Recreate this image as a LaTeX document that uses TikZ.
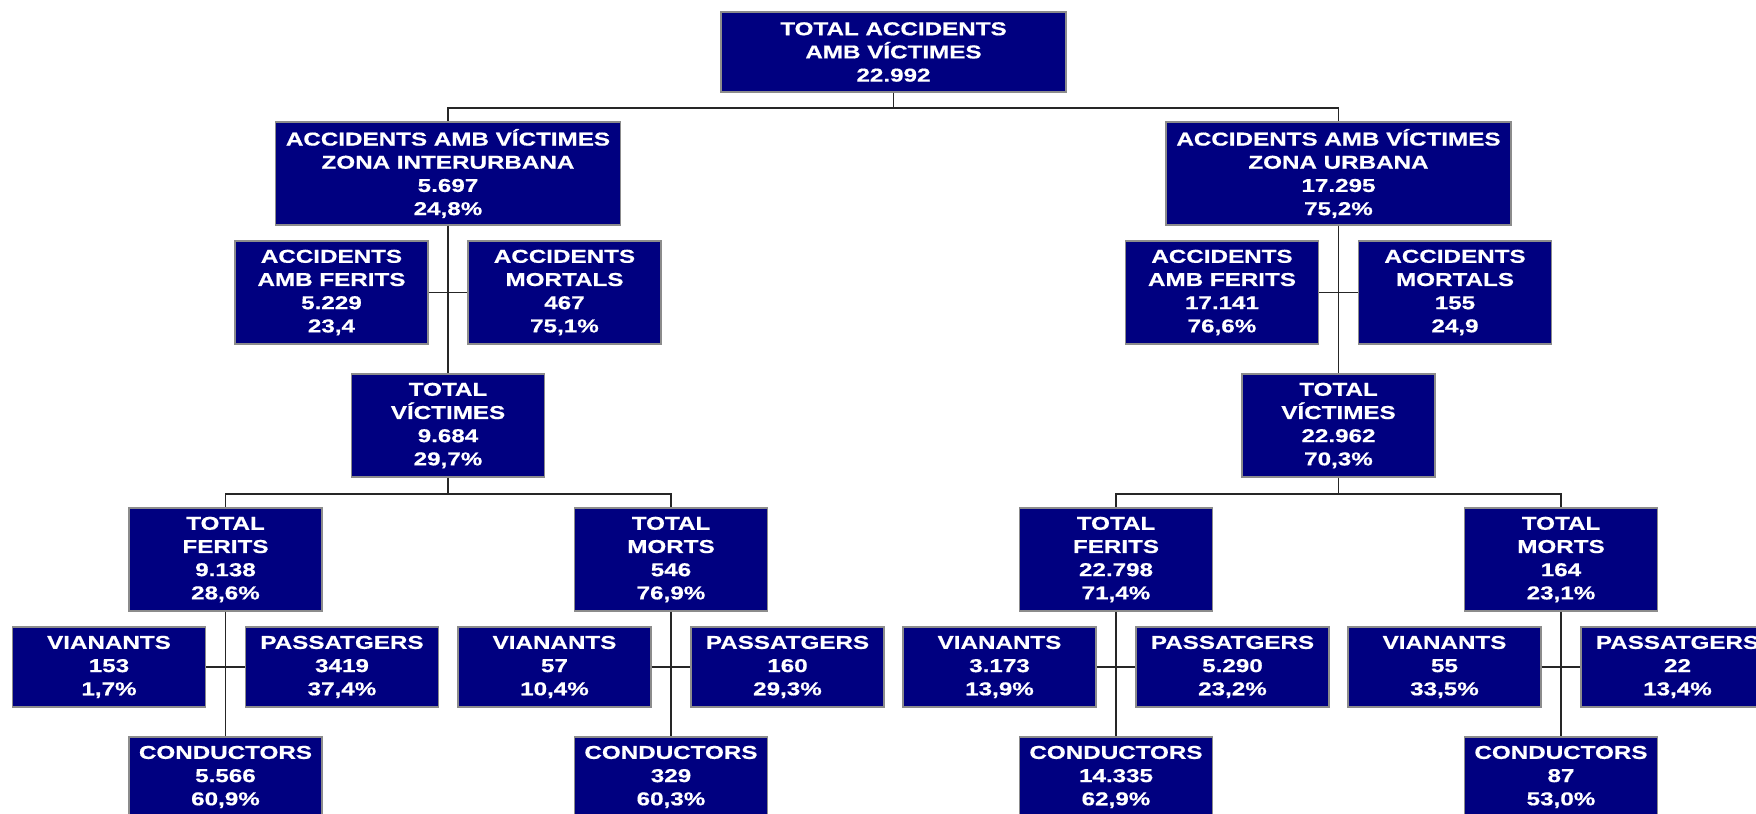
\documentclass[tikz,border=0pt]{standalone}
\usepackage{fontspec}
\setmainfont{Liberation Sans}[FakeStretch=1.3, BoldFeatures={FakeBold=0.6}]
\definecolor{boxblue}{HTML}{000080}
\definecolor{boxedge}{HTML}{8C8C8C}
\tikzset{
    orgbox/.style={draw=boxedge, fill=boxblue, text=white, line width=0.03cm,
        font=\fontsize{10.6pt}{13.2pt}\selectfont\bfseries, align=center,
        inner sep=0pt, minimum width=3.86cm, minimum height=2.06cm},
    widebox/.style={orgbox, minimum width=6.9cm},
    lowbox/.style={orgbox, minimum height=1.6cm},
    titlebox/.style={orgbox, minimum width=6.9cm, minimum height=1.6cm},
    link/.style={draw=black!85, line width=0.035cm},
}
\begin{document}
\begin{tikzpicture}[x=0.02cm, y=-0.02cm]
\useasboundingbox (0,0) rectangle (1756,814);
\clip (0,0) rectangle (1756,814);
% \draw[step=50, very thin, gray] (0,0) grid (1756,814);
\node[titlebox] (top) at (893.5,52) {TOTAL ACCIDENTS\\AMB VÍCTIMES\\22.992};
% zona interurbana
\node[widebox] (inter) at (448,173.5) {ACCIDENTS AMB VÍCTIMES\\ZONA INTERURBANA\\5.697\\24,8\%};
\node[orgbox] (accf1) at (331.5,292.5) {ACCIDENTS\\AMB FERITS\\5.229\\23,4};
\node[orgbox] (accm1) at (564.5,292.5) {ACCIDENTS\\MORTALS\\467\\75,1\%};
\node[orgbox] (vict1) at (448,425.5) {TOTAL\\VÍCTIMES\\9.684\\29,7\%};
\node[orgbox] (fer1) at (225.5,559.5) {TOTAL\\FERITS\\9.138\\28,6\%};
\node[orgbox] (mor1) at (671,559.5) {TOTAL\\MORTS\\546\\76,9\%};
\node[lowbox] (via1) at (109,667) {VIANANTS\\153\\1,7\%};
\node[lowbox] (pas1) at (342,667) {PASSATGERS\\3419\\37,4\%};
\node[lowbox] (cond1) at (225.5,777) {CONDUCTORS\\5.566\\60,9\%};
\node[lowbox] (via2) at (554.5,667) {VIANANTS\\57\\10,4\%};
\node[lowbox] (pas2) at (787.5,667) {PASSATGERS\\160\\29,3\%};
\node[lowbox] (cond2) at (671,777) {CONDUCTORS\\329\\60,3\%};
% zona urbana
\node[widebox] (urb) at (1338.5,173.5) {ACCIDENTS AMB VÍCTIMES\\ZONA URBANA\\17.295\\75,2\%};
\node[orgbox] (accf2) at (1222,292.5) {ACCIDENTS\\AMB FERITS\\17.141\\76,6\%};
\node[orgbox] (accm2) at (1455,292.5) {ACCIDENTS\\MORTALS\\155\\24,9};
\node[orgbox] (vict2) at (1338.5,425.5) {TOTAL\\VÍCTIMES\\22.962\\70,3\%};
\node[orgbox] (fer2) at (1116,559.5) {TOTAL\\FERITS\\22.798\\71,4\%};
\node[orgbox] (mor2) at (1561,559.5) {TOTAL\\MORTS\\164\\23,1\%};
\node[lowbox] (via3) at (999.5,667) {VIANANTS\\3.173\\13,9\%};
\node[lowbox] (pas3) at (1232.5,667) {PASSATGERS\\5.290\\23,2\%};
\node[lowbox] (cond3) at (1116,777) {CONDUCTORS\\14.335\\62,9\%};
\node[lowbox] (via4) at (1444.5,667) {VIANANTS\\55\\33,5\%};
\node[lowbox] (pas4) at (1677.5,667) {PASSATGERS\\22\\13,4\%};
\node[lowbox] (cond4) at (1561,777) {CONDUCTORS\\87\\53,0\%};
% connectors
\draw[link] (top.south) -- ++(0,15) coordinate (topfork);
\draw[link] (topfork) -| (inter.north);
\draw[link] (topfork) -| (urb.north);
\draw[link] (inter.south) -- (vict1.north);
\draw[link] (accf1.east) -- (accm1.west);
\draw[link] (vict1.south) -- ++(0,16) coordinate (fork1);
\draw[link] (fork1) -| (fer1.north);
\draw[link] (fork1) -| (mor1.north);
\draw[link] (fer1.south) -- (cond1.north);
\draw[link] (via1.east) -- (pas1.west);
\draw[link] (mor1.south) -- (cond2.north);
\draw[link] (via2.east) -- (pas2.west);
\draw[link] (urb.south) -- (vict2.north);
\draw[link] (accf2.east) -- (accm2.west);
\draw[link] (vict2.south) -- ++(0,16) coordinate (fork2);
\draw[link] (fork2) -| (fer2.north);
\draw[link] (fork2) -| (mor2.north);
\draw[link] (fer2.south) -- (cond3.north);
\draw[link] (via3.east) -- (pas3.west);
\draw[link] (mor2.south) -- (cond4.north);
\draw[link] (via4.east) -- (pas4.west);
\end{tikzpicture}
\end{document}
